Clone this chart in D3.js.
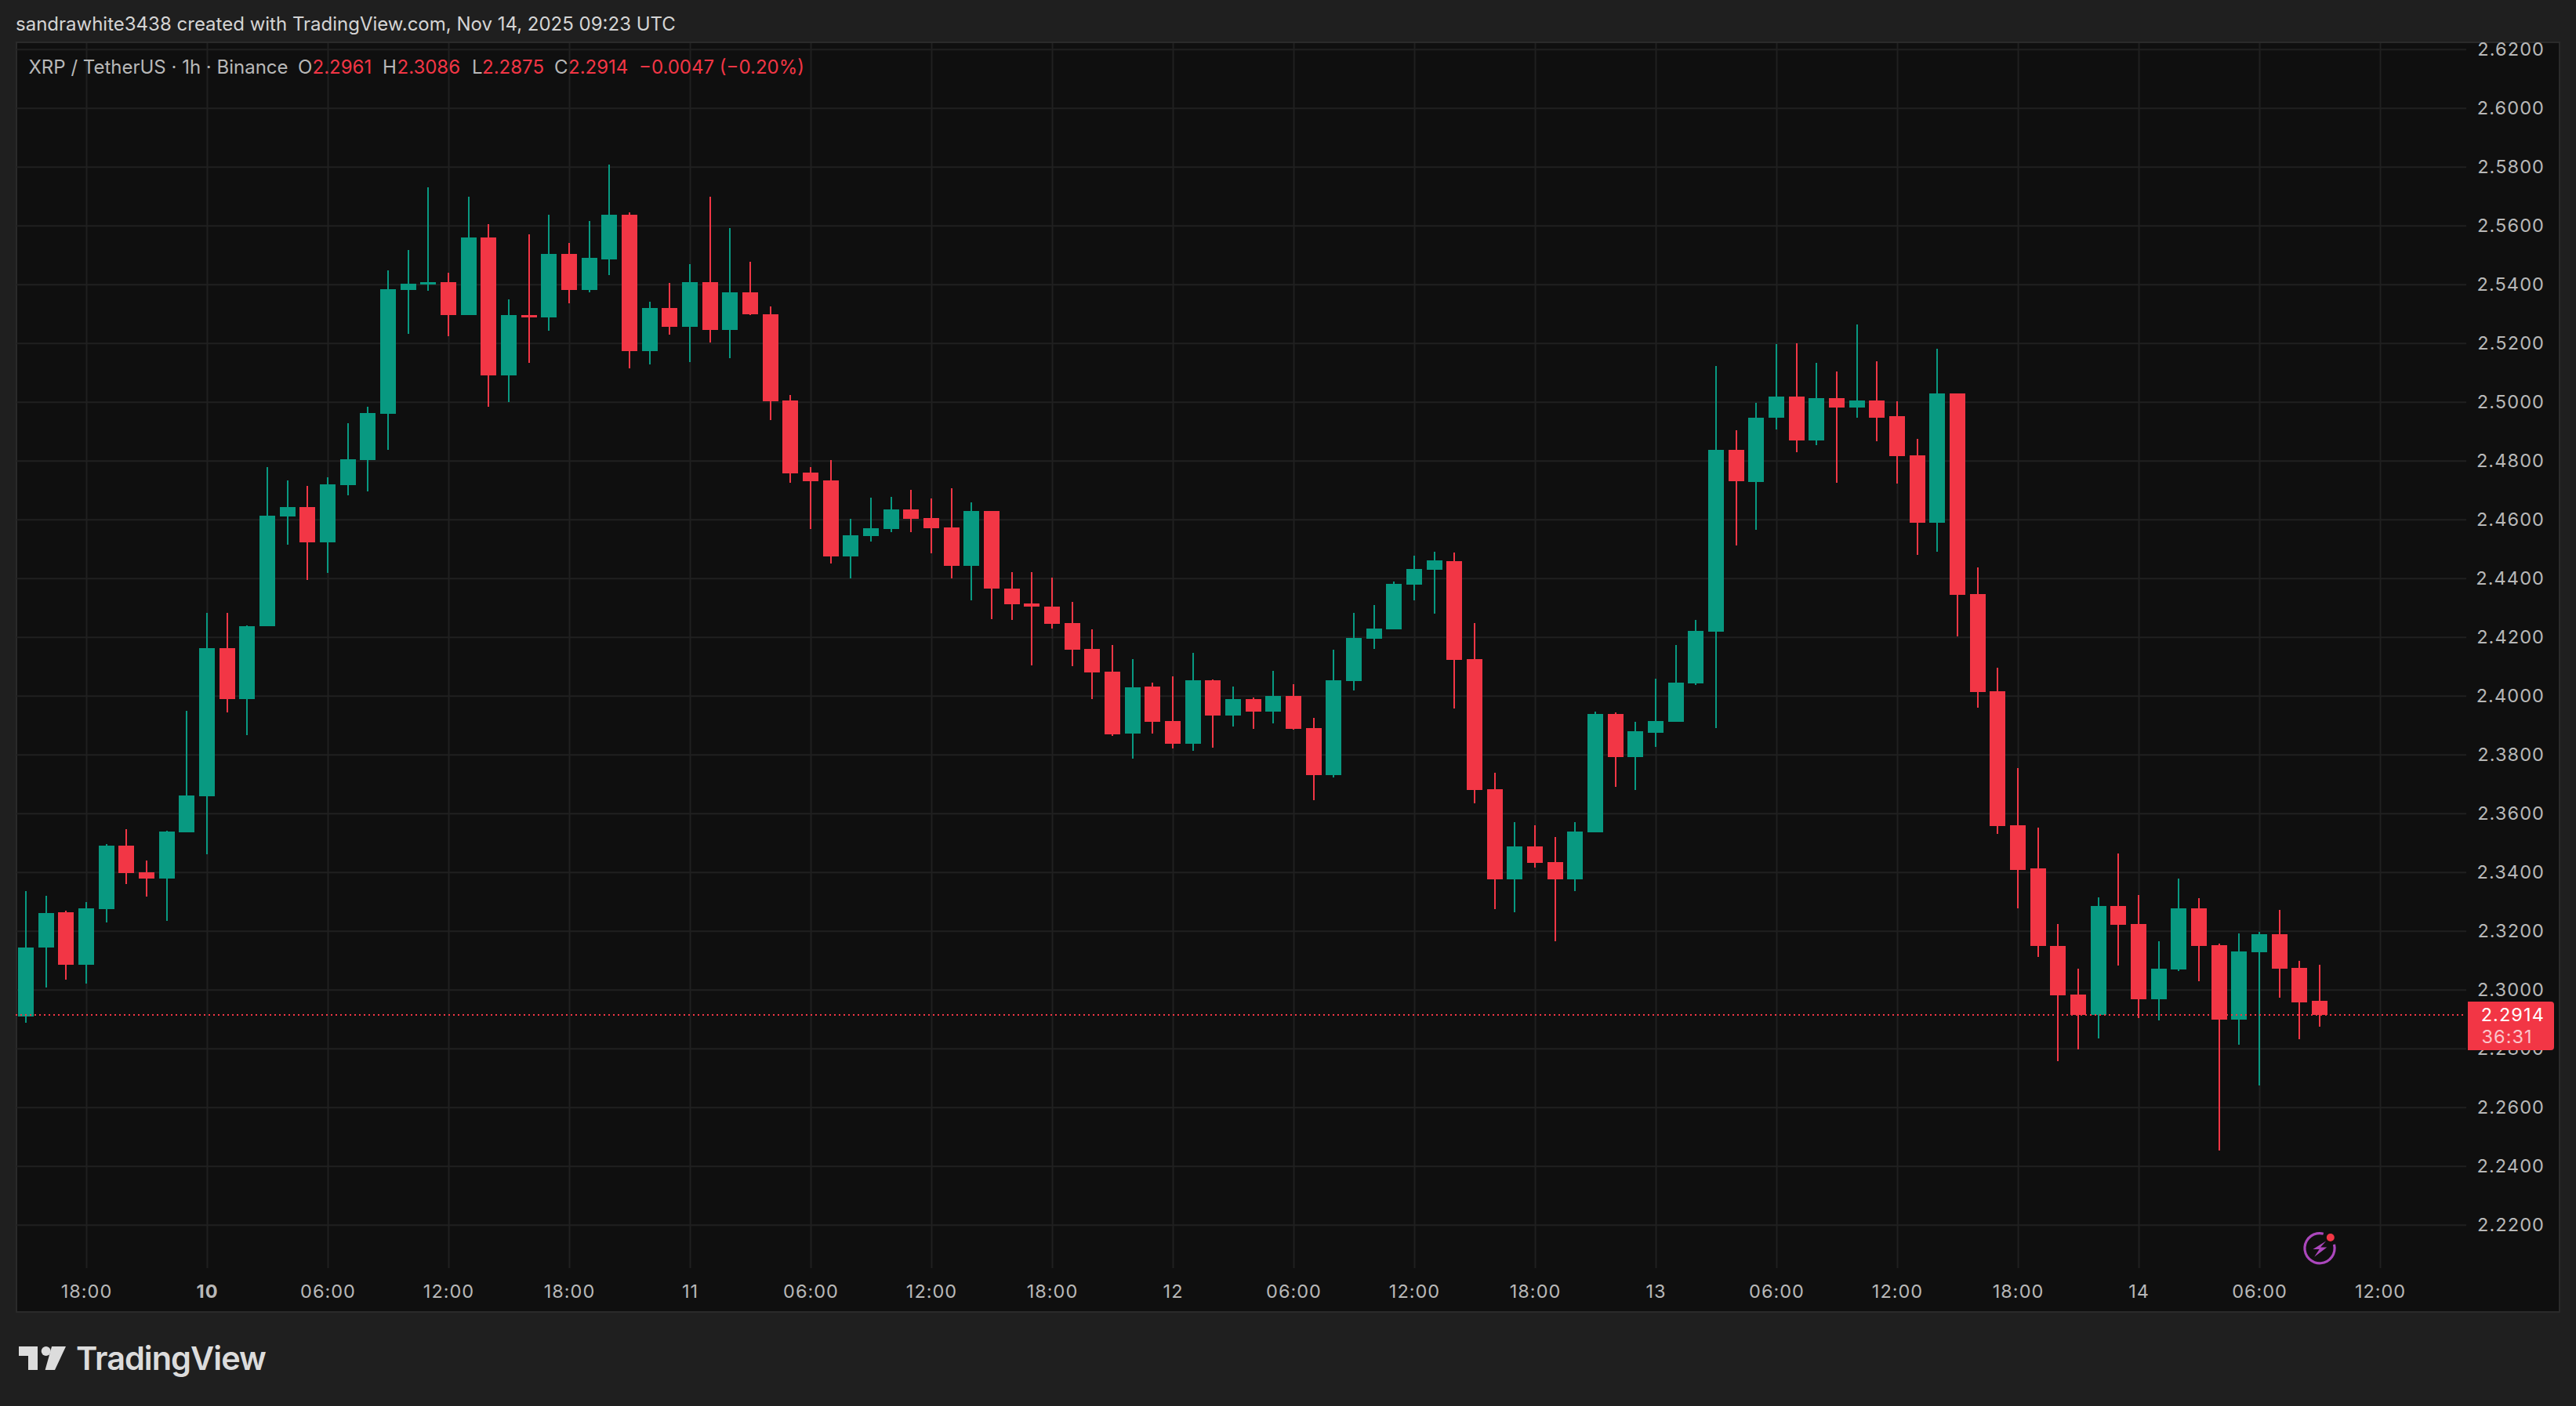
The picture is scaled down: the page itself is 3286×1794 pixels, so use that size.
<!DOCTYPE html>
<html>
<head>
<meta charset="utf-8">
<script src="https://cdn.jsdelivr.net/npm/d3@7/dist/d3.min.js"></script>
<style>
html,body{margin:0;padding:0;background:#1f1f1f;}
svg{display:block;}
text{font-family:"Inter","Noto Sans",sans-serif;}
</style>
</head>
<body>
<svg id="chart" width="3286" height="1794"></svg>
<script>
const opens = [2.2908,2.3143,2.3263,2.3084,2.3274,2.3490,2.3399,2.3378,2.3536,2.3658,2.4162,2.3989,2.4237,2.4610,2.4642,2.4522,2.4716,2.4802,2.4959,2.5381,2.5399,2.5407,2.5295,2.5559,2.5090,2.5295,2.5288,2.5503,2.5381,2.5485,2.5637,2.5172,2.5319,2.5255,2.5407,2.5245,2.5373,2.5299,2.5005,2.4759,2.4733,2.4474,2.4543,2.4567,2.4634,2.4605,2.4572,2.4442,2.4629,2.4364,2.4314,2.4303,2.4247,2.4159,2.4082,2.3871,2.4032,2.3914,2.3837,2.4053,2.3933,2.3989,2.3946,2.3999,2.3890,2.3730,2.4050,2.4194,2.4226,2.4378,2.4429,2.4458,2.4124,2.3683,2.3376,2.3488,2.3435,2.3376,2.3536,2.3938,2.3792,2.3874,2.3911,2.4042,2.4219,2.4837,2.4727,2.4946,2.5019,2.4869,2.5013,2.4981,2.5005,2.4952,2.4819,2.4589,2.5030,2.4346,2.4015,2.3559,2.3412,2.3148,2.2983,2.2914,2.3284,2.3223,2.2967,2.3068,2.3277,2.3152,2.2898,2.3128,2.3189,2.3074,2.2961];
const highs = [2.3335,2.3319,2.3268,2.3298,2.3495,2.3546,2.3439,2.3540,2.3949,2.4282,2.4282,2.4240,2.4778,2.4733,2.4714,2.4743,2.4928,2.4984,2.5447,2.5516,2.5729,2.5440,2.5698,2.5605,2.5349,2.5571,2.5637,2.5541,2.5615,2.5807,2.5646,2.5341,2.5405,2.5468,2.5698,2.5592,2.5477,2.5325,2.5023,2.4778,2.4802,2.4602,2.4674,2.4677,2.4701,2.4671,2.4706,2.4658,2.4629,2.4420,2.4420,2.4401,2.4319,2.4225,2.4172,2.4124,2.4045,2.4066,2.4146,2.4055,2.4032,2.3995,2.4085,2.4040,2.3924,2.4157,2.4282,2.4309,2.4389,2.4477,2.4490,2.4488,2.4247,2.3738,2.3571,2.3560,2.3520,2.3571,2.3946,2.3943,2.3911,2.4058,2.4172,2.4258,2.5123,2.4904,2.4998,2.5198,2.5200,2.5133,2.5104,2.5264,2.5138,2.5002,2.4875,2.5181,2.5030,2.4437,2.4096,2.3754,2.3551,2.3223,2.3071,2.3314,2.3463,2.3322,2.3164,2.3379,2.3312,2.3157,2.3191,2.3198,2.3272,2.3098,2.3086];
const lows = [2.2887,2.3007,2.3034,2.3020,2.3228,2.3359,2.3316,2.3234,2.3535,2.3461,2.3943,2.3866,2.4237,2.4514,2.4394,2.4418,2.4682,2.4696,2.4837,2.5232,2.5378,2.5223,2.5295,2.4984,2.4999,2.5133,2.5242,2.5336,2.5373,2.5432,2.5114,2.5128,2.5229,2.5136,2.5202,2.5149,2.5295,2.4939,2.4724,2.4568,2.4450,2.4399,2.4524,2.4557,2.4557,2.4485,2.4399,2.4324,2.4260,2.4258,2.4103,2.4229,2.4101,2.3989,2.3863,2.3786,2.3871,2.3820,2.3812,2.3823,2.3895,2.3888,2.3906,2.3885,2.3645,2.3722,2.4018,2.4159,2.4226,2.4324,2.4280,2.3957,2.3634,2.3275,2.3264,2.3416,2.3165,2.3336,2.3536,2.3689,2.3680,2.3826,2.3911,2.4037,2.3890,2.4512,2.4565,2.4906,2.4830,2.4854,2.4725,2.4946,2.4867,2.4723,2.4480,2.4490,2.4202,2.3960,2.3531,2.3276,2.3111,2.2756,2.2796,2.2834,2.3082,2.2903,2.2895,2.3064,2.3030,2.2453,2.2813,2.2674,2.2973,2.2831,2.2875];
const closes = [2.3143,2.3260,2.3084,2.3276,2.3490,2.3396,2.3378,2.3538,2.3660,2.4162,2.3989,2.4237,2.4612,2.4642,2.4522,2.4719,2.4805,2.4962,2.5384,2.5402,2.5407,2.5295,2.5559,2.5090,2.5295,2.5288,2.5503,2.5381,2.5490,2.5637,2.5172,2.5319,2.5255,2.5407,2.5245,2.5373,2.5299,2.5002,2.4757,2.4730,2.4474,2.4546,2.4570,2.4634,2.4602,2.4570,2.4442,2.4629,2.4364,2.4311,2.4303,2.4245,2.4157,2.4080,2.3868,2.4029,2.3911,2.3837,2.4053,2.3933,2.3989,2.3946,2.3999,2.3888,2.3730,2.4053,2.4197,2.4229,2.4381,2.4432,2.4460,2.4122,2.3680,2.3376,2.3488,2.3432,2.3376,2.3539,2.3938,2.3792,2.3880,2.3914,2.4045,2.4220,2.4837,2.4731,2.4946,2.5019,2.4869,2.5013,2.4981,2.5005,2.4946,2.4815,2.4589,2.5030,2.4344,2.4013,2.3557,2.3407,2.3148,2.2980,2.2914,2.3284,2.3220,2.2967,2.3071,2.3276,2.3149,2.2898,2.3130,2.3189,2.3072,2.2957,2.2914];

const priceTicks = [2.22,2.24,2.26,2.28,2.30,2.32,2.34,2.36,2.38,2.40,2.42,2.44,2.46,2.48,2.50,2.52,2.54,2.56,2.58,2.60,2.62];
const timeTickBars = [3,9,15,21,27,33,39,45,51,57,63,69,75,81,87,93,99,105,111,117];
const timeTickLabels = ["18:00","10","06:00","12:00","18:00","11","06:00","12:00","18:00","12","06:00","12:00","18:00","13","06:00","12:00","18:00","14","06:00","12:00"];
const boldLabels = ["10"];

const headerText = "sandrawhite3438 created with TradingView.com, Nov 14, 2025 09:23 UTC";
const legendParts = [
  ["XRP / TetherUS · 1h · Binance", 36.5, "#b8b8b8"],
  ["O", 380, "#b8b8b8"], ["2.2961", 398.5, "#f23645"],
  ["H", 488, "#b8b8b8"], ["2.3086", 506.5, "#f23645"],
  ["L", 602, "#b8b8b8"], ["2.2875", 615, "#f23645"],
  ["C", 707, "#b8b8b8"], ["2.2914", 725, "#f23645"],
  ["−0.0047 (−0.20%)", 815, "#f23645"]
];
const lastPrice = 2.2914;
const countdown = "36:31";

const UP = "#089981", DOWN = "#f23645", GRID = "#202020", TXT = "#b8b8b8";
const svg = d3.select("#chart");

svg.append("rect").attr("width",3286).attr("height",1794).attr("fill","#1f1f1f");
svg.append("rect").attr("x",21).attr("y",54).attr("width",3244).attr("height",1620)
  .attr("fill","#0f0f0f").attr("stroke","#2a2a2a").attr("stroke-width",2);

const x = d3.scaleLinear().domain([0,114]).range([33,33+114*25.667]);
const y = d3.scaleLinear().domain([2.22,2.62]).range([1562.8,62.8]);

// grid
const gy = svg.append("g").attr("transform","translate(3146,0)")
  .call(d3.axisLeft(y).tickValues(priceTicks).tickSize(3125).tickFormat(""));
const gx = svg.append("g").attr("transform","translate(0,1618)")
  .call(d3.axisTop(x).tickValues(timeTickBars).tickSize(1563).tickFormat(""));
[gy,gx].forEach(g=>{
  g.select(".domain").remove();
  g.selectAll("line").attr("stroke",GRID).attr("stroke-width",2);
});

// candles
const bars = d3.range(opens.length).map(i=>({i,o:opens[i],h:highs[i],l:lows[i],c:closes[i]}));
const col = d=>d.c>=d.o?UP:DOWN;
const cg = svg.append("g").attr("shape-rendering","crispEdges");
cg.selectAll("rect.wick").data(bars).join("rect").attr("class","wick")
  .attr("x",d=>Math.round(x(d.i))-1).attr("width",2)
  .attr("y",d=>y(d.h)).attr("height",d=>y(d.l)-y(d.h)).attr("fill",col);
cg.selectAll("rect.body").data(bars).join("rect").attr("class","body")
  .attr("x",d=>Math.round(x(d.i))-10).attr("width",20)
  .attr("y",d=>y(Math.max(d.o,d.c)))
  .attr("height",d=>Math.max(2.5,Math.abs(y(d.o)-y(d.c)))).attr("fill",col);

// last price line
svg.append("line").attr("x1",20).attr("x2",3146).attr("y1",y(lastPrice)).attr("y2",y(lastPrice))
  .attr("stroke",DOWN).attr("stroke-width",2).attr("stroke-dasharray","2 4");

// axes
const ax = svg.append("g").attr("transform","translate(3146,0)")
  .call(d3.axisRight(y).tickValues(priceTicks).tickSize(0).tickFormat(d3.format(".4f")));
ax.select(".domain").remove();
ax.selectAll("text").attr("x",100).attr("text-anchor","end").attr("fill",TXT)
  .attr("font-size",23.5).attr("letter-spacing",1.1).attr("font-family",'"Inter","Noto Sans",sans-serif');

const bx = svg.append("g").attr("transform","translate(0,1636)")
  .call(d3.axisBottom(x).tickValues(timeTickBars).tickSize(0).tickFormat((d,i)=>timeTickLabels[i]));
bx.select(".domain").remove();
bx.selectAll("text").attr("fill",TXT).attr("font-size",23.5).attr("letter-spacing",1)
  .attr("font-family",'"Inter","Noto Sans",sans-serif')
  .attr("font-weight",(d,i)=>boldLabels.includes(timeTickLabels[i])?700:400);

// price label
const py = y(lastPrice);
svg.append("path").attr("fill",DOWN)
  .attr("d",`M3148 ${py-17}H3254a4 4 0 0 1 4 4V${py+41}a4 4 0 0 1-4 4H3148Z`);
svg.append("text").attr("x",3246).attr("y",py+8).attr("text-anchor","end")
  .attr("font-size",23.5).attr("letter-spacing",1.1).attr("fill","#ffffff").text(lastPrice.toFixed(4));
svg.append("text").attr("x",3165.6).attr("y",py+36)
  .attr("font-size",23.5).attr("letter-spacing",1).attr("fill","#fbc5ca").text(countdown);

// header & legend
svg.append("text").attr("x",20).attr("y",39).attr("font-size",24).attr("fill","#d4d4d4").text(headerText);
svg.append("g").selectAll("text").data(legendParts).join("text")
  .attr("x",d=>d[1]).attr("y",94).attr("font-size",24).attr("fill",d=>d[2]).text(d=>d[0]);

// bolt icon
const icon = svg.append("g").attr("transform","translate(2959,1592.7)");
icon.append("path").attr("fill","#ab47bc")
  .attr("d",d3.arc().innerRadius(17.5).outerRadius(20.7).startAngle(Math.PI*0.42).endAngle(Math.PI*2.08)());
icon.append("path").attr("fill","#ab47bc").attr("d","M8.2 -9.3L-8.6 1.3H-0.4L-6.8 11.1L9.3 -1.3H1.1Z");
icon.append("circle").attr("cx",13.8).attr("cy",-13.7).attr("r",5).attr("fill",DOWN);

// logo
const logo = svg.append("g").attr("fill","#dcdcdc");
logo.append("path").attr("d","M24 1718H48V1748H36V1730H24Z");
logo.append("circle").attr("cx",58.7).attr("cy",1724).attr("r",6);
logo.append("path").attr("d","M66 1718H84L70 1748H57.6Z");
logo.append("text").attr("x",97).attr("y",1747.5).attr("font-size",41.5).attr("font-weight",600)
  .attr("letter-spacing",-1).text("TradingView");
</script>
</body>
</html>
